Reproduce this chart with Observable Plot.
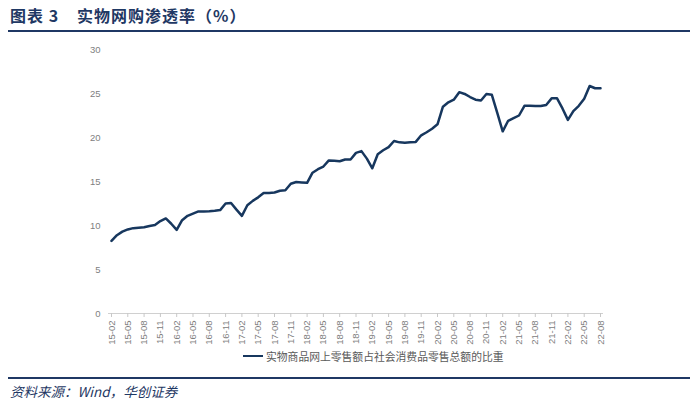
<!DOCTYPE html>
<html>
<head>
<meta charset="utf-8">
<script src="https://cdn.jsdelivr.net/npm/d3@7"></script>
<script src="https://cdn.jsdelivr.net/npm/@observablehq/plot@0.6"></script>
<style>
  html, body { margin: 0; padding: 0; background: #fff; }
  #page { position: relative; width: 700px; height: 411px; overflow: hidden; background: #fff; }
  #title { position: absolute; left: 10px; top: 3px; font-family: "Noto Sans CJK SC", sans-serif; font-weight: 700; font-size: 16px; color: #1f3864; white-space: pre; letter-spacing: 1px; }
  #title .t2 { margin-left: 18px; }
  .rule { position: absolute; left: 8px; width: 682px; height: 2px; background: #1f3864; }
  #chart { position: absolute; left: 0; top: 35px; }
  #legend { position: absolute; left: 243px; top: 348px; font-family: "Noto Sans CJK SC", sans-serif; font-size: 10.8px; color: #595959; display: flex; align-items: center; white-space: nowrap; }
  #legend .sw { width: 20px; height: 2.5px; background: #17375e; margin-right: 3px; }
  #source { position: absolute; left: 10px; top: 381px; font-family: "Noto Sans CJK SC", sans-serif; font-style: italic; font-size: 13.5px; color: #1f3864; white-space: pre; }
</style>
</head>
<body>
<div id="page">
  <div id="title">图表 3<span class="t2">实物网购渗透率（%）</span></div>
  <div class="rule" style="top:30px"></div>
  <div id="chart"></div>
  <div id="legend"><div class="sw"></div><span id="legendText"></span></div>
  <div class="rule" style="top:377px"></div>
  <div id="source">资料来源：Wind，华创证券</div>
</div>
<script>
const seriesName = "实物商品网上零售额占社会消费品零售总额的比重";

// monthly categories 2015-02 .. 2022-08
const startYear = 15, startMonth = 2, endYear = 22, endMonth = 8;
const months = [];
for (let y = startYear; y <= endYear; y++) {
  for (let m = 1; m <= 12; m++) {
    if ((y === startYear && m < startMonth) || (y === endYear && m > endMonth)) continue;
    months.push(`${y}-${String(m).padStart(2, "0")}`);
  }
}

const values = [
  8.25, 8.9, 9.3, 9.55, 9.7, 9.75, 9.8, 9.95, 10.05, 10.5, 10.8,
  10.2, 9.5, 10.6, 11.1, 11.35, 11.6, 11.6, 11.62, 11.67, 11.75, 12.5, 12.55,
  11.8, 11.1, 12.3, 12.8, 13.2, 13.7, 13.7, 13.75, 13.95, 14.0, 14.75, 14.95,
  14.9, 14.85, 16.0, 16.4, 16.7, 17.4, 17.35, 17.3, 17.5, 17.5, 18.25, 18.45,
  17.6, 16.5, 18.1, 18.55, 18.9, 19.6, 19.45, 19.4, 19.45, 19.5, 20.25, 20.6,
  21.0, 21.5, 23.5, 24.0, 24.3, 25.15, 24.95, 24.6, 24.3, 24.2, 24.95, 24.85,
  22.8, 20.7, 21.9, 22.2, 22.5, 23.6, 23.6, 23.57, 23.57, 23.7, 24.45, 24.45,
  23.3, 22.0, 23.0, 23.6, 24.4, 25.85, 25.6, 25.6
];

const tickLabels = [
  "15-02","15-05","15-08","15-11",
  "16-02","16-05","16-08","16-11",
  "17-02","17-05","17-08","17-11",
  "18-02","18-05","18-08","18-11",
  "19-02","19-05","19-08","19-11",
  "20-02","20-05","20-08","20-11",
  "21-02","21-05","21-08","21-11",
  "22-02","22-05","22-08"
];
const yTicks = [0, 5, 10, 15, 20, 25, 30];

const data = months.map((m, i) => ({month: m, value: values[i]}));

document.getElementById("legendText").textContent = seriesName;

const chart = Plot.plot({
  width: 700,
  height: 320,
  marginTop: 14,
  marginBottom: 42,
  marginLeft: 108,
  marginRight: 97,
  style: {fontFamily: "'Liberation Sans', Arial, sans-serif", fontSize: "9.5px", color: "#808080", background: "transparent"},
  x: {type: "point", domain: months, padding: 0.55, axis: null},
  y: {domain: [0, 30], axis: null},
  marks: [
    Plot.ruleY([0], {stroke: "#d0d0d0", strokeWidth: 1}),
    Plot.axisX(tickLabels, {tickRotate: -90, tickSize: 4, tickPadding: 3, stroke: "#c8c8c8", fill: "#808080", label: null}),
    Plot.axisY(yTicks, {tickSize: 0, tickPadding: 8, fill: "#808080", label: null}),
    Plot.lineY(data, {x: "month", y: "value", stroke: "#17375e", strokeWidth: 2.5, strokeLinejoin: "round"})
  ]
});
document.getElementById("chart").appendChild(chart);
</script>
</body>
</html>
